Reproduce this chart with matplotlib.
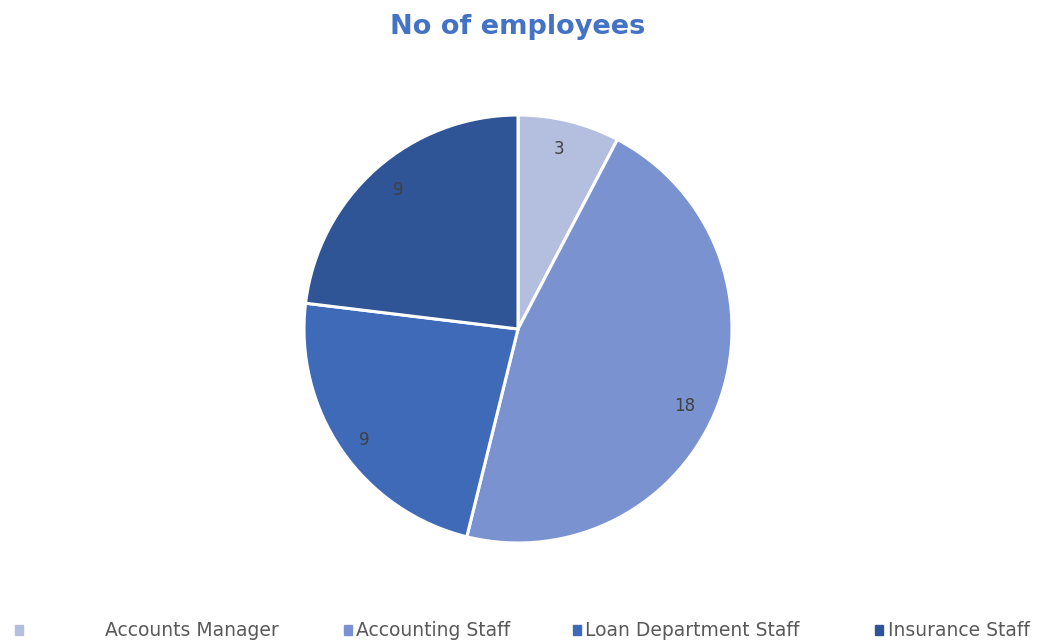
import matplotlib
matplotlib.use("Agg")
import matplotlib.pyplot as plt
from matplotlib.patches import Rectangle

categories = ["Accounts Manager", "Accounting Staff", "Loan Department Staff", "Insurance Staff"]
employees = [3, 18, 9, 9]
colors = ["#B4BFE0", "#7A93D0", "#3F6AB8", "#2F5597"]

W, H = 1043, 643
fig = plt.figure(figsize=(W / 100, H / 100), dpi=100)

# pie axes: centre (518, 329) px from top-left, radius 214 px
cx, cy, r = 518, 329, 214
ax = fig.add_axes([(cx - r) / W, (H - cy - r) / H, 2 * r / W, 2 * r / H])
wedges, texts = ax.pie(employees, colors=colors, startangle=90, counterclock=False,
                       labels=[str(v) for v in employees], labeldistance=0.86,
                       textprops=dict(color="#404040", fontsize=12, ha="center", va="center"),
                       wedgeprops=dict(edgecolor="white", linewidth=2.2))
# nudge the value labels to where the spreadsheet puts them
label_pos = [(0.19, 0.84), (0.78, -0.36), (-0.72, -0.52), (-0.56, 0.65)]
for t, p in zip(texts, label_pos):
    t.set_position(p)
ax.set_xlim(-1.0, 1.0)
ax.set_ylim(-1.0, 1.0)
ax.set_aspect("equal")
ax.axis("off")

fig.text(518 / W, 1 - 27 / H, "No of employees", ha="center", va="center",
         fontsize=19.5, fontweight="bold", color="#4472C4")

# legend along the bottom
marker_x = [15, 344, 573, 875]
text_x = [105, 356, 585, 888]
ly = 630
for name, col, mx, tx in zip(categories, colors, marker_x, text_x):
    fig.patches.append(Rectangle((mx / W, (H - ly - 5) / H), 8 / W, 10 / H,
                                 transform=fig.transFigure, color=col))
    fig.text(tx / W, 1 - ly / H, name, ha="left", va="center", fontsize=13.5,
             color="#595959")

fig.savefig("out.png", dpi=100)
